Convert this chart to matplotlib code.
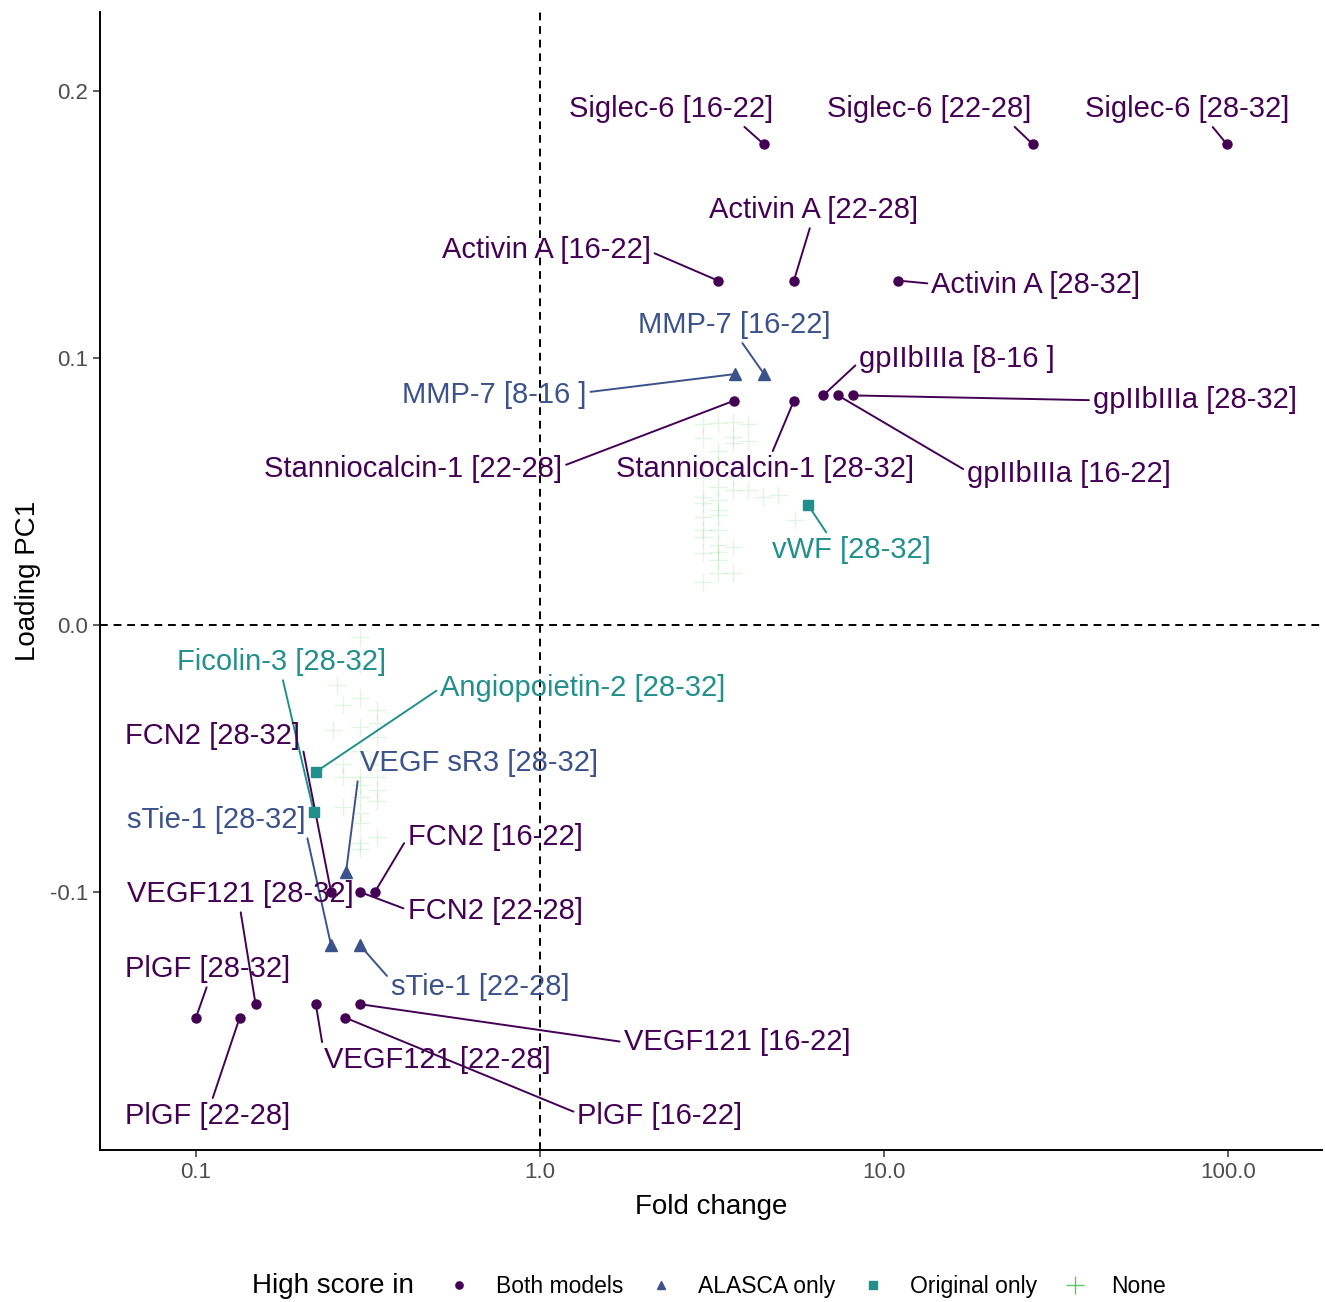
import matplotlib
matplotlib.use("Agg")
import matplotlib.pyplot as plt
from matplotlib.lines import Line2D

plt.rcParams["font.family"] = ["Liberation Sans", "DejaVu Sans"]

# labelled proteins: name, fold change, PC1 loading, group
names = [
    "Siglec-6 [16-22]", "Siglec-6 [22-28]", "Siglec-6 [28-32]",
    "Activin A [16-22]", "Activin A [22-28]", "Activin A [28-32]",
    "Stanniocalcin-1 [22-28]", "Stanniocalcin-1 [28-32]",
    "gpIIbIIIa [8-16 ]", "gpIIbIIIa [16-22]", "gpIIbIIIa [28-32]",
    "MMP-7 [8-16 ]", "MMP-7 [16-22]", "vWF [28-32]",
    "Angiopoietin-2 [28-32]", "Ficolin-3 [28-32]", "VEGF sR3 [28-32]",
    "sTie-1 [28-32]", "sTie-1 [22-28]",
    "FCN2 [28-32]", "FCN2 [22-28]", "FCN2 [16-22]",
    "VEGF121 [28-32]", "VEGF121 [22-28]", "VEGF121 [16-22]",
    "PlGF [28-32]", "PlGF [22-28]", "PlGF [16-22]",
]
fold = [
    4.48, 27.1, 99.3,
    3.29, 5.47, 11.0,
    3.66, 5.47,
    6.65, 7.35, 8.13,
    3.69, 4.48, 6.01,
    0.223, 0.220, 0.273,
    0.247, 0.300,
    0.247, 0.300, 0.331,
    0.149, 0.223, 0.300,
    0.100, 0.134, 0.271,
]
loading = [
    0.180, 0.180, 0.180,
    0.129, 0.129, 0.129,
    0.084, 0.084,
    0.086, 0.086, 0.086,
    0.094, 0.094, 0.045,
    -0.055, -0.070, -0.0925,
    -0.120, -0.120,
    -0.100, -0.100, -0.100,
    -0.142, -0.142, -0.142,
    -0.147, -0.147, -0.147,
]
group = [
    "Both models", "Both models", "Both models",
    "Both models", "Both models", "Both models",
    "Both models", "Both models",
    "Both models", "Both models", "Both models",
    "ALASCA only", "ALASCA only", "Original only",
    "Original only", "Original only", "ALASCA only",
    "ALASCA only", "ALASCA only",
    "Both models", "Both models", "Both models",
    "Both models", "Both models", "Both models",
    "Both models", "Both models", "Both models",
]

# unlabelled proteins (group "None")
none_fold = [
    2.98, 3.29, 3.64, 4.02, 3.64, 3.64, 2.98, 3.29, 3.64, 4.02, 4.92,
    2.98, 3.29, 2.98, 3.29, 2.98, 3.29, 5.51, 3.64, 3.29, 2.98, 3.29,
    3.29, 3.64, 2.98,
    2.98, 3.29, 3.29, 2.98, 3.64, 4.02, 2.98, 3.29, 4.45, 3.29, 2.98,
    0.300, 0.257, 0.300, 0.336, 0.250, 0.300, 0.336, 0.268, 0.300, 0.336,
    0.300, 0.268, 0.300, 0.336, 0.300, 0.336,
    0.300, 0.336, 0.300, 0.268, 0.300, 0.336, 0.300, 0.320, 0.268, 0.300,
]
none_loading = [
    0.0753, 0.0757, 0.0760, 0.0753, 0.0704, 0.0682, 0.0551, 0.0517, 0.0506,
    0.0506, 0.0487, 0.0457, 0.0468, 0.0404, 0.0412, 0.0356, 0.0356, 0.0393,
    0.0292, 0.0273, 0.0270, 0.0243, 0.0195, 0.0195, 0.0161,
    0.0700, 0.0650, 0.0600, 0.0600, 0.0560, 0.0690, 0.0480, 0.0430, 0.0480,
    0.0300, 0.0330,
    -0.0045, -0.0225, -0.0273, -0.0318, -0.0393, -0.0382, -0.0367, -0.0569,
    -0.0569, -0.0569, -0.0644, -0.0682, -0.0704, -0.0618, -0.0816, -0.0794,
    -0.0150, -0.0420, -0.0470, -0.0520, -0.0600, -0.0660, -0.0740, -0.0520,
    -0.0300, -0.0840,
]

# label placement (text centre, data units) and where the leader line leaves the text box
label_pos = {
    "Siglec-6 [16-22]": (2.40, 0.1932, (0.84, 0.0)),
    "Siglec-6 [22-28]": (13.51, 0.1932, (0.90, 0.0)),
    "Siglec-6 [28-32]": (76.0, 0.1932, (0.61, 0.0)),
    "Activin A [16-22]": (1.041, 0.1404, (1.0, 0.45)),
    "Activin A [22-28]": (6.22, 0.1554, (0.49, 0.0)),
    "Activin A [28-32]": (27.66, 0.1273, (0.0, 0.55)),
    "Stanniocalcin-1 [22-28]": (0.4273, 0.0584, (1.0, 0.6)),
    "Stanniocalcin-1 [28-32]": (4.51, 0.0584, (0.52, 1.0)),
    "gpIIbIIIa [8-16 ]": (16.30, 0.0996, (0.0, 0.4)),
    "gpIIbIIIa [16-22]": (34.5, 0.0565, (0.0, 0.6)),
    "gpIIbIIIa [28-32]": (80.2, 0.0842, (0.0, 0.5)),
    "MMP-7 [8-16 ]": (0.735, 0.0861, (1.0, 0.6)),
    "MMP-7 [16-22]": (3.66, 0.1123, (0.53, 0.0)),
    "vWF [28-32]": (8.02, 0.0280, (0.36, 1.0)),
    "Angiopoietin-2 [28-32]": (1.334, -0.0236, (0.0, 0.5)),
    "Ficolin-3 [28-32]": (0.1778, -0.0139, (0.5, 0.0)),
    "VEGF sR3 [28-32]": (0.665, -0.0517, (0.0, 0.5)),
    "sTie-1 [28-32]": (0.1143, -0.0731, (1.0, 0.2)),
    "sTie-1 [22-28]": (0.669, -0.1356, (0.0, 0.75)),
    "FCN2 [28-32]": (0.1120, -0.0416, (1.0, 0.5)),
    "FCN2 [22-28]": (0.740, -0.1072, (0.0, 0.55)),
    "FCN2 [16-22]": (0.740, -0.0795, (0.0, 0.5)),
    "VEGF121 [28-32]": (0.1343, -0.1008, (0.5, 0.0)),
    "VEGF121 [22-28]": (0.502, -0.1630, (0.0, 0.8)),
    "VEGF121 [16-22]": (3.74, -0.1562, (0.0, 0.5)),
    "PlGF [28-32]": (0.1084, -0.1289, (0.5, 0.0)),
    "PlGF [22-28]": (0.1084, -0.1839, (0.52, 1.0)),
    "PlGF [16-22]": (2.233, -0.1839, (0.0, 0.6)),
}

colors = {
    "Both models": "#440154",
    "ALASCA only": "#3B528B",
    "Original only": "#21908C",
    "None": "#5DC863",
}
markers = {"Both models": "o", "ALASCA only": "^", "Original only": "s", "None": "+"}
msize = {"Both models": 6.5, "ALASCA only": 8, "Original only": 6.5, "None": 13}

fig = plt.figure(figsize=(13.25, 13.02), dpi=100)
ax = fig.add_axes([100 / 1325, 1 - 1150 / 1302, 1222 / 1325, 1138 / 1302])

ax.plot(none_fold, none_loading, linestyle="none", marker="+", ms=msize["None"],
        mew=1.0, color=colors["None"], alpha=0.18, zorder=1)

ax.axvline(1.0, color="black", lw=1.4, ls=(0, (4, 3)), zorder=2)
ax.axhline(0.0, color="black", lw=1.4, ls=(0, (4, 3)), zorder=2)

for n, x, y, g in zip(names, fold, loading, group):
    ax.plot([x], [y], linestyle="none", marker=markers[g], ms=msize[g],
            color=colors[g], mec=colors[g], zorder=4)
    lx, ly, rel = label_pos[n]
    ax.annotate(n, xy=(x, y), xytext=(lx, ly), textcoords="data",
                ha="center", va="center", fontsize=21, color=colors[g],
                arrowprops=dict(arrowstyle="-", color=colors[g], lw=1.4,
                                relpos=rel, shrinkA=1, shrinkB=2),
                zorder=3)

ax.set_xscale("log")
ax.set_xlim(0.0526, 187.5)
ax.set_ylim(-0.1966, 0.2296)
ax.set_xticks([0.1, 1.0, 10.0, 100.0])
ax.set_xticklabels(["0.1", "1.0", "10.0", "100.0"])
ax.minorticks_off()
ax.set_yticks([-0.1, 0.0, 0.1, 0.2])
ax.set_yticklabels(["-0.1", "0.0", "0.1", "0.2"])
ax.tick_params(axis="both", colors="#333333", labelcolor="#4D4D4D", labelsize=16,
               length=5, width=1.1, direction="out")
for side in ("top", "right"):
    ax.spines[side].set_visible(False)
for side in ("left", "bottom"):
    ax.spines[side].set_linewidth(1.4)
    ax.spines[side].set_color("black")

ax.set_xlabel("Fold change", fontsize=20, labelpad=8)
ax.set_ylabel("Loading PC1", fontsize=20, labelpad=6)

fig.text(252 / 1325, 0.012, "High score in", fontsize=20, ha="left", va="center")
handles = [
    Line2D([], [], linestyle="none", marker=markers[g], ms=msize[g] * (0.8 if g != "None" else 1.0),
           color=colors[g], mew=1.0)
    for g in ["Both models", "ALASCA only", "Original only", "None"]
]
fig.legend(handles, ["Both models", "ALASCA only", "Original only", "None"],
           loc="center left", bbox_to_anchor=(448 / 1325, 0.012), ncol=4,
           frameon=False, fontsize=16.5, handlelength=1.0, handletextpad=1.1,
           columnspacing=1.15, borderaxespad=0, borderpad=0)

fig.savefig("out.png", dpi=100)
